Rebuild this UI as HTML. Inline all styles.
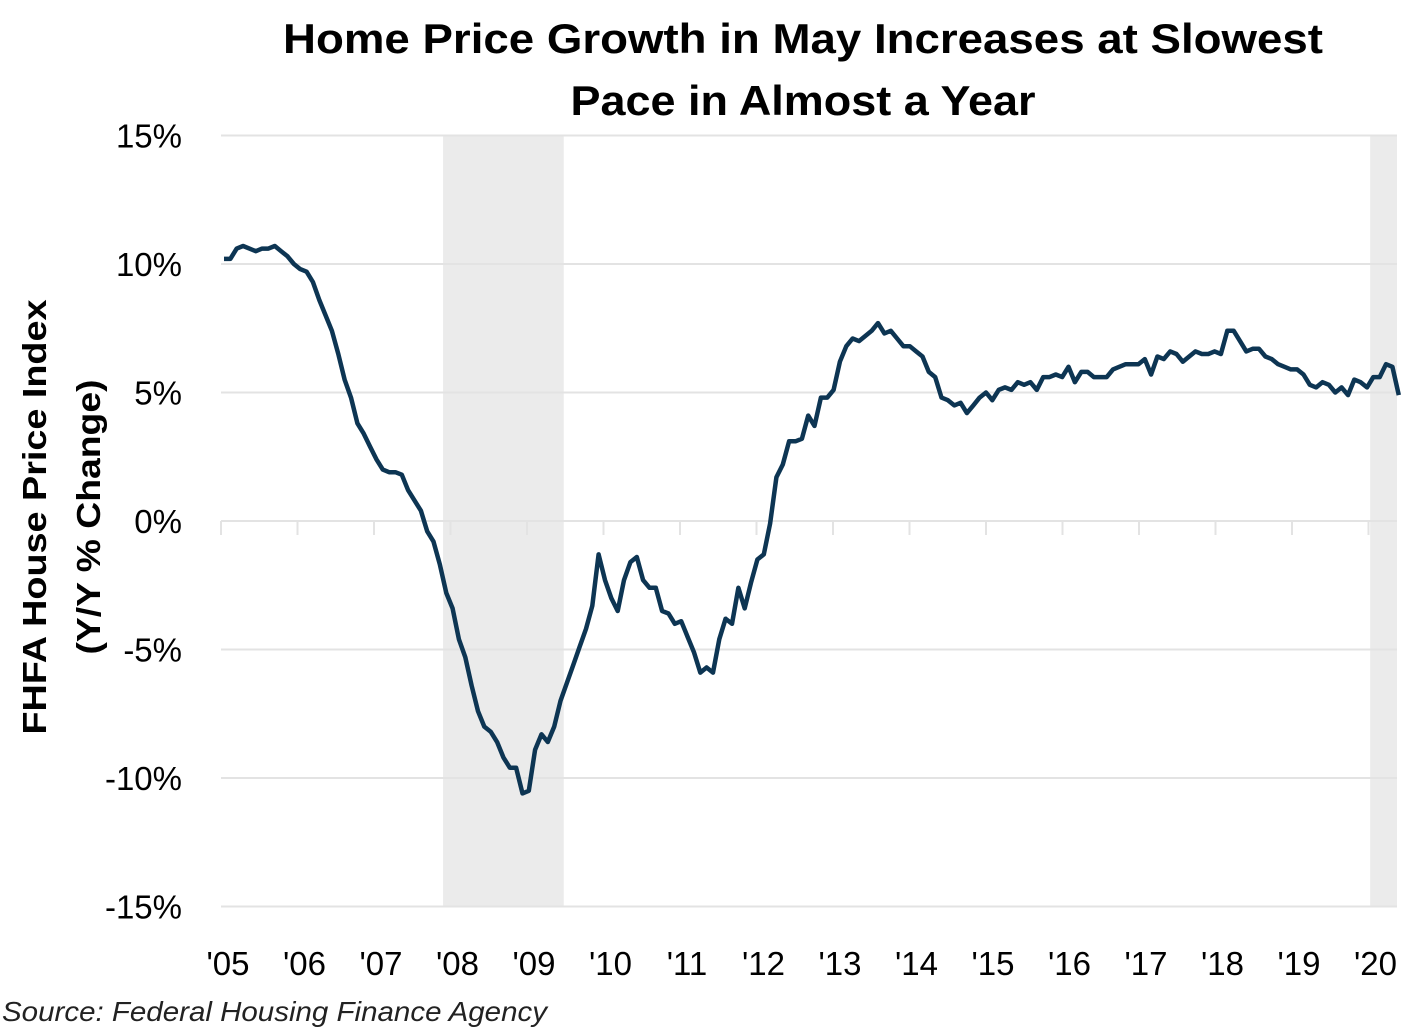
<!DOCTYPE html>
<html><head><meta charset="utf-8"><style>
body{margin:0;background:#fff;width:1421px;height:1031px;overflow:hidden;font-family:"Liberation Sans",sans-serif}
</style></head><body>
<svg width="1421" height="1031">
<text x="803" y="53" text-anchor="middle" font-size="42" font-weight="bold" textLength="1040" lengthAdjust="spacingAndGlyphs">Home Price Growth in May Increases at Slowest</text>
<text x="803" y="115" text-anchor="middle" font-size="42" font-weight="bold" textLength="465" lengthAdjust="spacingAndGlyphs">Pace in Almost a Year</text>
<g id="rec"></g><g id="grid"></g><g id="ticks"></g>
<text transform="translate(46,517) rotate(-90)" text-anchor="middle" font-size="33" font-weight="bold" textLength="435" lengthAdjust="spacingAndGlyphs">FHFA House Price Index</text>
<text transform="translate(100,517) rotate(-90)" text-anchor="middle" font-size="33" font-weight="bold" textLength="275" lengthAdjust="spacingAndGlyphs">(Y/Y % Change)</text>
<path id="line" fill="none" stroke="#0d3553" stroke-width="4.5" stroke-linejoin="round"/>
<text x="2" y="1021" font-size="28" font-style="italic" fill="#222" textLength="545" lengthAdjust="spacingAndGlyphs">Source: Federal Housing Finance Agency</text>
</svg>
<script>
const yTicks=[15,10,5,0,-5,-10,-15];
const yearLabels=["'05","'06","'07","'08","'09","'10","'11","'12","'13","'14","'15","'16","'17","'18","'19","'20"];
const recessions=[[34.5,53.5],[180.5,185]];
const values=[
10.2,10.2,10.6,10.7,10.6,10.5,10.6,10.6,10.7,10.5,10.3,10.0,
9.8,9.7,9.3,8.6,8.0,7.4,6.5,5.5,4.8,3.8,3.4,2.9,
2.4,2.0,1.9,1.9,1.8,1.2,0.8,0.4,-0.4,-0.8,-1.7,-2.8,
-3.4,-4.6,-5.3,-6.4,-7.4,-8.0,-8.2,-8.6,-9.2,-9.6,-9.6,-10.6,
-10.5,-8.9,-8.3,-8.6,-8.0,-7.0,-6.3,-5.6,-4.9,-4.2,-3.3,-1.3,
-2.3,-3.0,-3.5,-2.3,-1.6,-1.4,-2.3,-2.6,-2.6,-3.5,-3.6,-4.0,
-3.9,-4.5,-5.1,-5.9,-5.7,-5.9,-4.6,-3.8,-4.0,-2.6,-3.4,-2.4,
-1.5,-1.3,-0.1,1.7,2.2,3.1,3.1,3.2,4.1,3.7,4.8,4.8,
5.1,6.2,6.8,7.1,7.0,7.2,7.4,7.7,7.3,7.4,7.1,6.8,
6.8,6.6,6.4,5.8,5.6,4.8,4.7,4.5,4.6,4.2,4.5,4.8,
5.0,4.7,5.1,5.2,5.1,5.4,5.3,5.4,5.1,5.6,5.6,5.7,
5.6,6.0,5.4,5.8,5.8,5.6,5.6,5.6,5.9,6.0,6.1,6.1,
6.1,6.3,5.7,6.4,6.3,6.6,6.5,6.2,6.4,6.6,6.5,6.5,
6.6,6.5,7.4,7.4,7.0,6.6,6.7,6.7,6.4,6.3,6.1,6.0,
5.9,5.9,5.7,5.3,5.2,5.4,5.3,5.0,5.2,4.9,5.5,5.4,
5.2,5.6,5.6,6.1,6.0,4.9];
const NS="http://www.w3.org/2000/svg";
const X=m=>224+m*6.35, Y=v=>521-v*25.7;
function mk(t,a,p){const e=document.createElementNS(NS,t);for(const k in a)e.setAttribute(k,a[k]);p.appendChild(e);return e;}
const rec=document.getElementById('rec');
recessions.forEach(r=>{const x2=Math.min(X(r[1]),1397);const e=mk('rect',{x:X(r[0]),y:135,width:x2-X(r[0]),height:772,fill:'#ebebeb'},rec);

});
const g=document.getElementById('grid');
yTicks.forEach(v=>{const l=mk('line',{x1:221,x2:1397,y1:Y(v),y2:Y(v),stroke:'#e3e3e3','stroke-width':2},g);


const t=mk('text',{x:182,y:Y(v)+12,'text-anchor':'end','font-size':33},g);t.textContent=v+'%';

});
const tk=document.getElementById('ticks');
yearLabels.forEach((s,i)=>{const x=221+i*76.5;
const l=mk('line',{x1:x,x2:x,y1:521,y2:535,stroke:'#e3e3e3','stroke-width':2},tk);


const t=mk('text',{x:x+7,y:975,'text-anchor':'middle','font-size':33},tk);t.textContent=s;

});
document.getElementById('line').setAttribute('d',values.map((v,i)=>(i?'L':'M')+X(i).toFixed(1)+','+Y(v).toFixed(1)).join(''));
</script>
</body></html>
